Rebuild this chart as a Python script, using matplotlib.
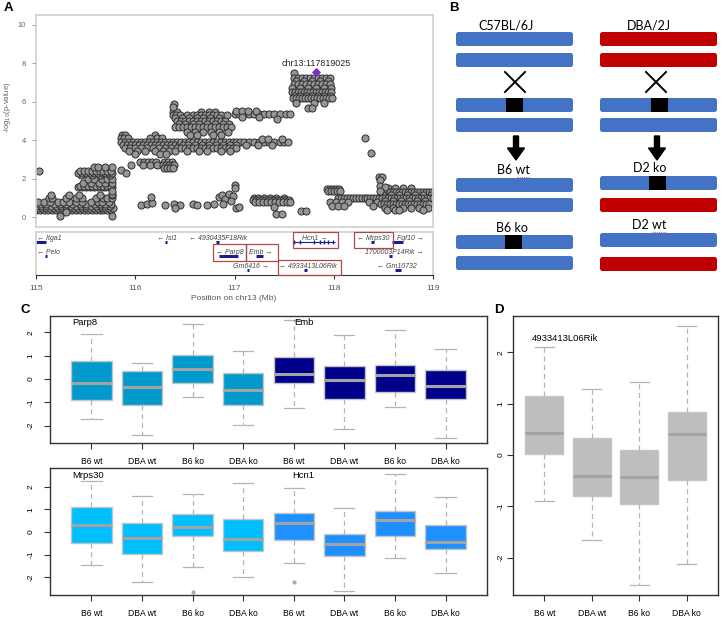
import matplotlib
matplotlib.use('Agg')
import numpy as np
import matplotlib.pyplot as plt
from matplotlib.patches import FancyBboxPatch, Rectangle

plt.rcParams['font.family'] = ['Liberation Sans', 'DejaVu Sans']

# ---------------- data: panel A (SNP association) ----------------
# rows of SNPs sharing the same -log10(p) (y, positions in Mb)
snp_rows = [
    (0.38, [115.00, 115.04, 115.08, 115.12, 115.16, 115.20, 115.24, 115.28, 115.32, 115.36,
            115.40, 115.44, 115.48, 115.52, 115.56, 115.60, 115.64, 115.68, 115.72, 115.76]),
    (0.48, [115.02, 115.06, 115.10, 115.14, 115.18, 115.22, 115.26, 115.30, 115.34, 115.38,
            115.42, 115.46, 115.50, 115.54, 115.58, 115.62, 115.66, 115.70, 115.74, 115.78]),
    (0.58, [115.00, 115.05, 115.10, 115.15, 115.20, 115.25, 115.30, 115.35, 115.40, 115.45,
            115.50, 115.55, 115.60, 115.65, 115.70, 115.75]),
    (0.68, [115.04, 115.10, 115.18, 115.24, 115.30, 115.36, 115.44, 115.50, 115.58, 115.64,
            115.70, 115.76]),
    (0.82, [115.02, 115.08, 115.14, 115.22, 115.27, 115.33, 115.40, 115.46, 115.55, 115.62,
            115.66, 115.74]),
    (1.00, [115.13, 115.16, 115.30, 115.40, 115.46, 115.60, 115.68, 115.72, 115.77]),
    (1.15, [115.15, 115.33, 115.43, 115.64, 115.77]),
    (1.55, [115.42, 115.46, 115.50, 115.54, 115.58, 115.62, 115.66, 115.70, 115.74, 115.77]),
    (1.65, [115.44, 115.48, 115.52, 115.56, 115.60, 115.64, 115.68, 115.72, 115.76]),
    (1.80, [115.47, 115.55, 115.63, 115.70, 115.77]),
    (2.00, [115.52, 115.58, 115.66, 115.72, 115.77]),
    (2.20, [115.45, 115.56, 115.64, 115.75]),
    (2.32, [115.42, 115.46, 115.50, 115.54, 115.58, 115.62, 115.66, 115.70, 115.74, 115.77]),
    (2.42, [115.44, 115.48, 115.52, 115.56, 115.60, 115.64, 115.68, 115.72, 115.76]),
    (2.60, [115.58, 115.62, 115.70, 115.77]),
    # block 115.85 - 116.45
    (4.25, [115.87, 115.90, 116.20]),
    (4.10, [115.86, 115.89, 115.93, 116.15, 116.22, 116.27]),
    (3.92, [115.86, 115.90, 115.94, 115.98, 116.02, 116.06, 116.10, 116.14, 116.18, 116.22,
            116.26, 116.30, 116.34, 116.38, 116.42]),
    (3.78, [115.88, 115.92, 115.96, 116.00, 116.04, 116.08, 116.12, 116.16, 116.20, 116.24,
            116.28, 116.32, 116.36, 116.40, 116.44]),
    (3.62, [115.90, 115.95, 116.00, 116.06, 116.12, 116.18, 116.24, 116.30, 116.36, 116.42]),
    (3.45, [115.94, 116.02, 116.10, 116.20, 116.28, 116.34, 116.40]),
    (3.30, [116.00, 116.25, 116.31]),
    (2.85, [116.05, 116.09, 116.13, 116.17, 116.21, 116.29, 116.33, 116.37]),
    (2.70, [116.08, 116.15, 116.22, 116.28, 116.31, 116.34, 116.37, 116.39]),
    (2.55, [116.29, 116.32, 116.35, 116.38]),
    # block 116.37 - 117.0
    (5.45, [116.38, 116.42, 116.66, 116.74, 116.80]),
    (5.30, [116.38, 116.41, 116.45, 116.52, 116.58, 116.62, 116.66, 116.70, 116.74, 116.78,
            116.82, 116.86, 116.92]),
    (5.15, [116.40, 116.47, 116.54, 116.62, 116.68, 116.75, 116.84]),
    (4.98, [116.42, 116.46, 116.50, 116.54, 116.58, 116.62, 116.66, 116.70, 116.74, 116.78,
            116.82, 116.86, 116.90]),
    (4.82, [116.44, 116.50, 116.58, 116.64, 116.72, 116.80, 116.88, 116.94]),
    (4.68, [116.40, 116.44, 116.48, 116.52, 116.56, 116.60, 116.64, 116.68, 116.72, 116.76,
            116.80, 116.84, 116.88, 116.92, 116.96]),
    (4.45, [116.52, 116.60, 116.68, 116.76, 116.84, 116.93]),
    (4.25, [116.55, 116.62, 116.78, 116.86]),
    (3.92, [116.46, 116.50, 116.54, 116.58, 116.62, 116.66, 116.70, 116.74, 116.78, 116.82,
            116.86, 116.90, 116.94, 116.98, 117.02, 117.06]),
    (3.78, [116.48, 116.53, 116.60, 116.67, 116.74, 116.81, 116.88, 116.95, 117.02]),
    (3.60, [116.46, 116.50, 116.54, 116.58, 116.62, 116.66, 116.70, 116.74, 116.78, 116.82,
            116.86, 116.90, 116.94, 116.98, 117.02]),
    (3.45, [116.52, 116.64, 116.72, 116.86, 116.95]),
    (3.92, [117.10, 117.15, 117.20, 117.25, 117.30, 117.35, 117.40, 117.46, 117.50, 117.54]),
    (3.75, [117.12, 117.24, 117.38]),
    (4.05, [117.28, 117.34, 117.48]),
    (5.38, [117.00, 117.05, 117.10, 117.15, 117.20, 117.25, 117.30, 117.35, 117.40, 117.46,
            117.52, 117.56]),
    (5.50, [117.02, 117.08, 117.14, 117.22]),
    (0.98, [117.20, 117.24, 117.30, 117.36, 117.42, 117.50]),
    (0.88, [117.19, 117.22, 117.25, 117.28, 117.31, 117.34, 117.37, 117.40, 117.43, 117.46,
            117.49, 117.52, 117.55]),
    (0.80, [117.21, 117.25, 117.29, 117.33, 117.37, 117.41, 117.45, 117.49, 117.53, 117.56]),
    # peak block 117.57 - 117.97
    (7.48, [117.60]),
    (7.25, [117.60, 117.64, 117.68, 117.72, 117.76, 117.80, 117.84, 117.88, 117.92, 117.96]),
    (7.05, [117.62, 117.70, 117.78, 117.86, 117.94]),
    (6.92, [117.60, 117.64, 117.68, 117.72, 117.76, 117.80, 117.84, 117.88, 117.92, 117.96]),
    (6.70, [117.58, 117.66, 117.74, 117.82, 117.90, 117.97]),
    (6.50, [117.58, 117.61, 117.64, 117.67, 117.70, 117.73, 117.76, 117.79, 117.82, 117.85,
            117.88, 117.91, 117.94, 117.97]),
    (6.32, [117.60, 117.66, 117.72, 117.78, 117.84, 117.90, 117.96]),
    (6.18, [117.59, 117.62, 117.65, 117.68, 117.71, 117.74, 117.77, 117.80, 117.83, 117.86,
            117.89, 117.92, 117.95, 117.98]),
    (5.95, [117.62, 117.80, 117.90]),
    # right side
    (1.45, [117.93, 117.96, 117.99, 118.02, 118.05]),
    (1.35, [117.94, 117.97, 118.00, 118.03, 118.06]),
    (1.00, [118.04, 118.07, 118.10, 118.13, 118.16, 118.19, 118.22, 118.25, 118.28, 118.31,
            118.34, 118.37, 118.40, 118.43, 118.46]),
    (0.82, [117.96, 118.02, 118.08, 118.14, 118.36, 118.44]),
    (0.60, [117.98, 118.04, 118.10, 118.40]),
    (1.50, [118.55, 118.62, 118.70, 118.78]),
    (1.32, [118.48, 118.51, 118.54, 118.57, 118.60, 118.63, 118.66, 118.69, 118.72, 118.75,
            118.78, 118.81, 118.84, 118.87, 118.90, 118.93, 118.96, 118.99]),
    (1.15, [118.50, 118.58, 118.66, 118.74, 118.82, 118.90, 118.98]),
    (1.00, [118.49, 118.52, 118.55, 118.58, 118.61, 118.64, 118.67, 118.70, 118.73, 118.76,
            118.79, 118.82, 118.85, 118.88, 118.91, 118.94, 118.97, 119.00]),
    (0.85, [118.52, 118.60, 118.68, 118.76, 118.84, 118.92]),
    (0.68, [118.48, 118.51, 118.54, 118.57, 118.60, 118.63, 118.66, 118.69, 118.72, 118.75,
            118.78, 118.81, 118.84, 118.87, 118.90, 118.93, 118.96]),
    (0.50, [118.52, 118.60, 118.70, 118.78, 118.86, 118.95]),
    (0.36, [118.54, 118.62, 118.66, 118.90]),
]
# isolated SNPs (position Mb, -log10 p)
snp_single_x = [115.03, 115.24, 115.77, 115.30, 115.77, 115.77, 115.86, 115.91, 115.96,
                116.39, 116.38, 117.43, 117.25, 117.08,
                116.39, 116.45, 116.40, 116.58, 116.62, 116.72, 116.79, 116.84, 116.87,
                116.90, 116.94, 116.98, 117.00, 117.00, 116.96, 117.02, 117.05, 116.88,
                116.30, 116.06, 116.12, 116.17, 116.16, 117.42, 117.48, 117.40,
                117.74, 117.78, 117.67, 117.72, 118.31, 118.38,
                118.46, 118.49, 118.47, 118.47, 118.52, 118.47]
snp_single_y = [2.39, 0.07, 0.07, 0.30, 1.20, 1.35, 2.45, 2.32, 2.72,
                5.90, 5.72, 5.08, 5.20, 5.20,
                0.70, 0.66, 0.46, 0.70, 0.66, 0.66, 0.70, 1.05, 1.15,
                0.95, 1.20, 1.10, 1.70, 1.52, 0.85, 0.50, 0.52, 0.68,
                0.62, 0.66, 0.68, 0.72, 1.05, 0.17, 0.20, 0.55,
                5.66, 5.66, 0.35, 0.35, 4.13, 3.35,
                2.10, 2.10, 1.95, 1.62, 1.55, 1.38]
lead_pos, lead_p, lead_name = 117.819025, 7.56, 'chr13:117819025'

# gene track
gene_names = ['Itga1', 'Isl1', '4930435F18Rik', 'Hcn1', 'Mrps30', 'Fgf10',
              'Pelo', 'Parp8', 'Emb', '1700003P14Rik',
              'Gm6416', '4933413L06Rik', 'Gm10732']
gene_row = [0, 0, 0, 0, 0, 0, 1, 1, 1, 1, 2, 2, 2]
gene_strand = ['-', '-', '-', '+', '-', '+', '-', '-', '+', '+', '+', '-', '-']
gene_label_x = [115.007, 116.22, 116.54, 117.68, 118.23, 118.64,
                115.007, 116.81, 117.15, 118.31, 116.98, 117.45, 118.44]
gene_start = [115.00, 116.30, 116.81, 117.60, 118.38, 118.59,
              115.09, 116.84, 117.22, 118.56, 117.13, 117.70, 118.62]
gene_end = [115.09, 116.31, 116.84, 118.00, 118.40, 118.69,
            115.10, 117.03, 117.28, 118.58, 117.14, 117.72, 118.67]
boxed_genes = ['Hcn1', 'Mrps30', 'Parp8', 'Emb', '4933413L06Rik']
boxed_x0 = [117.59, 118.20, 116.78, 117.12, 117.44]
boxed_x1 = [118.04, 118.60, 117.12, 117.44, 118.07]
boxed_y0 = [0.0, 0.0, 0.84, 0.84, 1.95]
boxed_y1 = [1.12, 1.12, 2.02, 2.02, 3.0]

# ---------------- data: panels C and D (expression) ----------------
groups = ['B6 wt', 'DBA wt', 'B6 ko', 'DBA ko']
# (whisker low, q1, median, q3, whisker high)
parp8 = [(-1.71, -0.89, -0.17, 0.79, 1.93), (-2.39, -1.12, -0.35, 0.36, 0.69),
         (-0.78, -0.17, 0.42, 1.04, 2.36), (-1.96, -1.12, -0.49, 0.26, 1.18)]
emb = [(-1.25, -0.19, 0.19, 0.94, 2.53), (-2.13, -0.88, -0.04, 0.56, 1.90),
       (-1.19, -0.55, 0.17, 0.60, 2.10), (-2.53, -0.86, -0.29, 0.40, 1.27)]
mrps30 = [(-1.47, -0.50, 0.32, 1.09, 2.24), (-2.21, -0.99, -0.27, 0.41, 1.59),
          (-1.55, -0.16, 0.22, 0.77, 1.68), (-2.00, -0.83, -0.31, 0.55, 2.17)]
mrps30_out = [[], [], [-2.63], []]
hcn1 = [(-1.37, -0.34, 0.40, 0.84, 1.93), (-2.60, -1.08, -0.52, -0.09, 1.06),
        (-1.17, -0.18, 0.52, 0.93, 2.57), (-1.80, -0.77, -0.46, 0.31, 1.56)]
hcn1_out = [[-2.21], [], [], []]
rik = [(-0.89, 0.01, 0.43, 1.15, 2.10), (-1.65, -0.79, -0.40, 0.33, 1.28),
       (-2.54, -0.96, -0.42, 0.09, 1.43), (-2.13, -0.49, 0.41, 0.84, 2.52)]
gene_colors = {'Parp8': '#009acd', 'Emb': '#00008b', 'Mrps30': '#00bfff',
               'Hcn1': '#1e90ff', '4933413L06Rik': '#bebebe'}

# ---------------- figure ----------------
W, H = 723, 620
fig = plt.figure(figsize=(W / 100, H / 100), dpi=100)


def px_axes(x0, y0, x1, y1):
    return fig.add_axes([x0 / W, 1 - y1 / H, (x1 - x0) / W, (y1 - y0) / H])


def fig_text(x, y, s, **kw):
    fig.text(x / W, 1 - y / H, s, **kw)


# panel letters
for lab, x, y in [('A', 8, 8), ('B', 454, 8), ('C', 25, 310), ('D', 499, 310)]:
    fig_text(x, y, lab, fontsize=9.5, fontweight='bold', ha='center', va='center')

# ---- panel A scatter ----
ax = px_axes(36, 15, 433, 227)
xs, ys = [], []
for y, row in snp_rows:
    xs += row
    ys += [y] * len(row)
xs += snp_single_x
ys += snp_single_y
ax.scatter(xs, ys, s=26, facecolor='#969696', edgecolor='#2e2e2e', linewidth=0.7, zorder=2)
ax.scatter([lead_pos], [lead_p], marker='D', s=14, color='#7b2fc8', zorder=3)
ax.text(lead_pos, 7.97, lead_name, ha='center', va='center', fontsize=6.4, color='#222222')
ax.set_xlim(115, 119)
ax.set_ylim(-0.5, 10.5)
ax.set_xticks([])
ax.set_yticks([0, 2, 4, 6, 8, 10])
ax.tick_params(axis='y', length=3, width=0.6, color='#888888', labelsize=5.5,
               labelcolor='#666666', pad=4)
for sp in ax.spines.values():
    sp.set_color('#cfcfcf')
    sp.set_linewidth(1.2)
fig_text(8, 107, '-log$_{10}$(p-value)', rotation=90, fontsize=5.5, color='#666666',
         ha='center', va='center')

# ---- gene track ----
axg = px_axes(36, 232, 433, 275)
axg.set_xlim(115, 119)
axg.set_ylim(3, 0)
for name, r, st, lx, g0, g1 in zip(gene_names, gene_row, gene_strand, gene_label_x,
                                   gene_start, gene_end):
    label = '\u2190 ' + name if st == '-' else name + ' \u2192'
    axg.text(lx, r + 0.42, label, fontsize=5, style='italic', color='#444444',
             ha='left', va='center', family=['Liberation Sans', 'DejaVu Sans'])
    lw = 0.8 if name == 'Hcn1' else 2.2
    axg.hlines(r + 0.68, g0, g1 + 0.008, color='#1c1c8e', lw=lw)
    if name == 'Hcn1':
        axg.plot([117.60, 117.66, 117.80, 117.86, 117.90, 117.94, 117.99],
                 [r + 0.68] * 7, '|', ms=3, mew=1, color='#1c1c8e')
for bx0, bx1, by0, by1 in zip(boxed_x0, boxed_x1, boxed_y0, boxed_y1):
    axg.add_patch(Rectangle((bx0, by0), bx1 - bx0, by1 - by0, fill=False,
                            edgecolor='#b04848', lw=0.9, zorder=3, clip_on=False))
axg.set_yticks([])
axg.set_xticks([115, 116, 117, 118, 119])
axg.tick_params(axis='x', length=3, width=0.8, color='#333333', labelsize=6,
                labelcolor='#555555', pad=4)
for side in ['top', 'left', 'right']:
    axg.spines[side].set_color('#cfcfcf')
    axg.spines[side].set_linewidth(1.2)
axg.spines['bottom'].set_color('#333333')
axg.spines['bottom'].set_linewidth(0.8)
fig_text(234, 298, 'Position on chr13 (Mb)', fontsize=6, color='#555555',
         ha='center', va='center')

# ---- panel B schematic ----
axb = px_axes(420, 0, 723, 300)
axb.set_xlim(0, 303)
axb.set_ylim(300, 0)
axb.axis('off')
blue, red = '#4472c4', '#c00000'
col_x = [36, 180]
col_rows = [[32, 53, 98, 118, 178, 198, 235, 256], [32, 53, 98, 118, 176, 198, 233, 257]]
col_colors = [[blue] * 8, [red, red, blue, blue, blue, red, blue, red]]
ko_marks = [(0, 2, 86), (0, 6, 85), (1, 2, 231), (1, 4, 229)]
for c in range(2):
    for ry, colr in zip(col_rows[c], col_colors[c]):
        axb.add_patch(FancyBboxPatch((col_x[c], ry), 117, 14,
                                     boxstyle='round,pad=0,rounding_size=2.5',
                                     facecolor=colr, edgecolor='none'))
for c, ri, kx in ko_marks:
    axb.add_patch(Rectangle((kx, col_rows[c][ri]), 17, 14, facecolor='black', edgecolor='none'))
for cx in [95, 236]:
    axb.plot([cx - 10, cx + 10], [72, 92], color='black', lw=1.4)
    axb.plot([cx - 10, cx + 10], [92, 72], color='black', lw=1.4)
for cx in [96, 237]:
    axb.arrow(cx, 136, 0, 24, width=5, head_width=17, head_length=12,
              length_includes_head=True, color='black')
b_labels = [('C57BL/6J', 86, 25), ('DBA/2J', 229, 25), ('B6 wt', 93, 170),
            ('D2 ko', 230, 168), ('B6 ko', 92, 228), ('D2 wt', 229, 225)]
for s, x, y in b_labels:
    axb.text(x, y, s, fontsize=9, ha='center', va='center', family='Lato')
axb.plot([97, 110], [176.5, 176.5], color='#e06060', lw=0.8, ls=(0, (1, 1)))
axb.plot([232, 246], [232, 232], color='#e06060', lw=0.8, ls=(0, (1, 1)))


# ---- boxplots ----
def draw_boxes(axx, sets, names, outs, xlim, ylim, tick_pad):
    stats, colors = [], []
    for boxes, name, out in zip(sets, names, outs):
        for (lo, q1, med, q3, hi), fl in zip(boxes, out):
            stats.append(dict(whislo=lo, q1=q1, med=med, q3=q3, whishi=hi, fliers=fl))
            colors.append(gene_colors[name])
    bp = axx.bxp(stats, positions=np.arange(1, len(stats) + 1), widths=0.8,
                 patch_artist=True, capwidths=0.4,
                 boxprops=dict(edgecolor='#c4c4c4', linewidth=1.0),
                 medianprops=dict(color='#a3a3a3', linewidth=2.2),
                 whiskerprops=dict(color='#b4b4b4', linewidth=0.9, linestyle=(0, (4, 3))),
                 capprops=dict(color='#b4b4b4', linewidth=0.9),
                 flierprops=dict(marker='o', markersize=2, markerfacecolor='#aaaaaa',
                                 markeredgecolor='#aaaaaa'))
    for patch, colr in zip(bp['boxes'], colors):
        patch.set_facecolor(colr)
    axx.set_xlim(*xlim)
    axx.set_ylim(*ylim)
    axx.set_xticks(np.arange(1, len(stats) + 1))
    axx.set_xticklabels(groups * (len(stats) // 4))
    axx.set_yticks([-2, -1, 0, 1, 2])
    axx.set_yticklabels(['-2', '-1', '0', '1', '2'], rotation=90, va='center')
    axx.tick_params(axis='x', length=4, width=0.8, labelsize=6.2, pad=6, color='#333333')
    axx.tick_params(axis='y', length=4, width=0.8, labelsize=6, pad=tick_pad, color='#333333')
    for sp in axx.spines.values():
        sp.set_color('#333333')
        sp.set_linewidth(1.0)


axc1 = px_axes(50, 316, 487, 443)
draw_boxes(axc1, [parp8, emb], ['Parp8', 'Emb'], [[[]] * 4, [[]] * 4],
           (0.18, 8.82), (-2.75, 2.7), 7)
axc1.text(0.62, 2.4, 'Parp8', fontsize=6.8, ha='left', va='center')
axc1.text(5.0, 2.4, 'Emb', fontsize=6.8, ha='left', va='center')

axc2 = px_axes(50, 468, 487, 595)
draw_boxes(axc2, [mrps30, hcn1], ['Mrps30', 'Hcn1'], [mrps30_out, hcn1_out],
           (0.18, 8.82), (-2.78, 2.82), 7)
axc2.text(0.62, 2.47, 'Mrps30', fontsize=6.8, ha='left', va='center')
axc2.text(4.96, 2.47, 'Hcn1', fontsize=6.8, ha='left', va='center')

axd = px_axes(513, 316, 718, 595)
draw_boxes(axd, [rik], ['4933413L06Rik'], [[[]] * 4], (0.34, 4.66), (-2.73, 2.71), 2)
axd.text(0.74, 2.27, '4933413L06Rik', fontsize=6.8, ha='left', va='center')

fig.savefig('out.png', dpi=100)
